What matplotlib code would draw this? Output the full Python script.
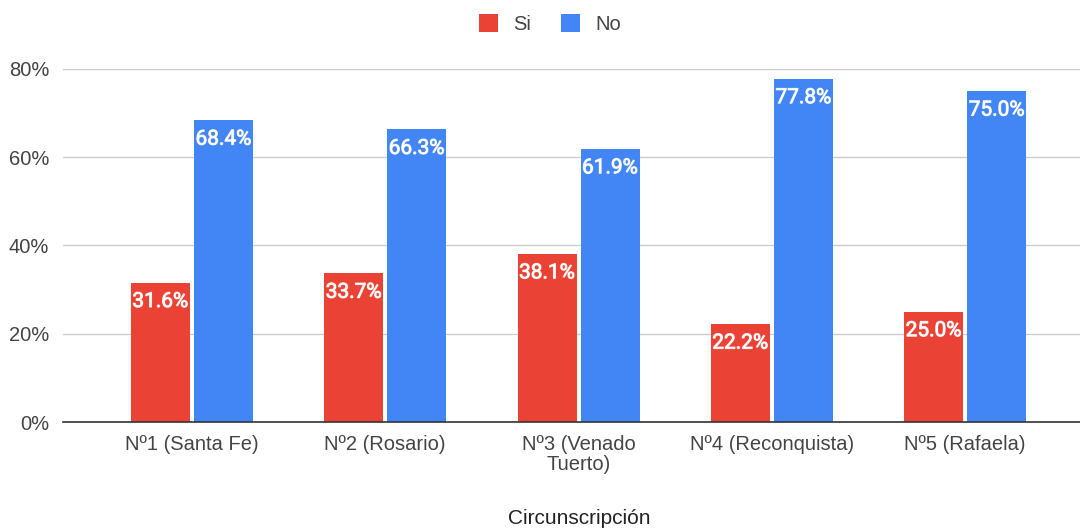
import matplotlib
matplotlib.use("Agg")
import matplotlib.pyplot as plt
import matplotlib.patheffects as pe
import numpy as np

categories = ["Nº1 (Santa Fe)", "Nº2 (Rosario)", "Nº3 (Venado\nTuerto)", "Nº4 (Reconquista)", "Nº5 (Rafaela)"]
si_values = [31.6, 33.7, 38.1, 22.2, 25.0]
no_values = [68.4, 66.3, 61.9, 77.8, 75.0]
series_names = ["Si", "No"]
yticks = [0, 20, 40, 60, 80]

RED = "#EA4335"
BLUE = "#4285F4"

plt.rcParams['font.family'] = ['Liberation Sans', 'DejaVu Sans']

fig = plt.figure(figsize=(10.8, 5.29), dpi=100)
ax = fig.add_axes([63/1080, 1 - 422/529, (1080-63)/1080, (422-69)/529])

x = np.arange(len(categories))
w = 0.305
off = 0.163
b1 = ax.bar(x - off, si_values, w, color=RED, label=series_names[0], zorder=3)
b2 = ax.bar(x + off, no_values, w, color=BLUE, label=series_names[1], zorder=3)

for bars, vals, col in [(b1, si_values, RED), (b2, no_values, BLUE)]:
    for rect, v in zip(bars, vals):
        t = ax.annotate(f"{v:.1f}%", (rect.get_x() + rect.get_width()/2, v),
                        xytext=(0, -19), textcoords="offset pixels",
                        ha="center", va="center", color="white", fontsize=15,
                        family=["Roboto", "DejaVu Sans"], zorder=5)
        t.set_path_effects([pe.withStroke(linewidth=0.8, foreground="#f6c2bd" if col == RED else "#bcd4fb"),
                            pe.Normal()])

ax.set_xlim(-0.667, 4.594)
ax.set_ylim(0, 80)
ax.set_yticks(yticks)
ax.set_yticklabels([f"{t}%" for t in yticks], color="#444444", fontsize=14.5)
ax.set_xticks(x)
ax.set_xticklabels(categories, color="#444444", fontsize=14.5, linespacing=1.12)
ax.tick_params(axis="both", length=0)
ax.tick_params(axis="y", pad=10)
ax.tick_params(axis="x", pad=9)
ax.yaxis.grid(True, color="#cccccc", linewidth=1, zorder=0)
for s in ["top", "right", "left"]:
    ax.spines[s].set_visible(False)
ax.spines["bottom"].set_color("#333333")
ax.spines["bottom"].set_linewidth(1.2)
ax.spines["bottom"].set_zorder(4)

fig.text(579/1080, 1 - 518/529, "Circunscripción", ha="center", va="center", color="#222222", fontsize=15)

leg = fig.legend(handles=[b1, b2], labels=series_names, loc="center", bbox_to_anchor=(550/1080, 1 - 24/529),
                 ncol=2, frameon=False, fontsize=14.5, handlelength=0.95, handleheight=0.95,
                 columnspacing=1.5, handletextpad=0.75)
for t in leg.get_texts():
    t.set_color("#444444")

fig.savefig("out.png", dpi=100)
